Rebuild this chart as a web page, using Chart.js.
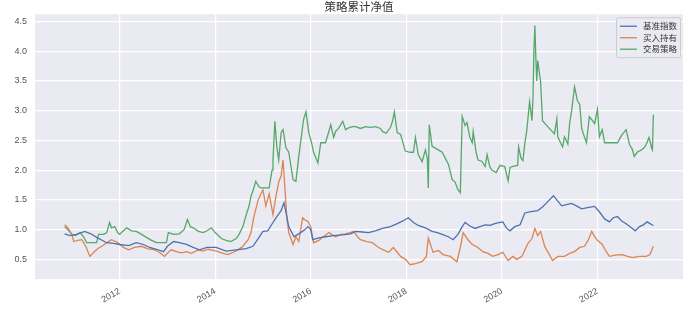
<!DOCTYPE html>
<html>
<head>
<meta charset="utf-8">
<script src="https://cdn.jsdelivr.net/npm/chart.js@4/dist/chart.umd.min.js"></script>
<style>
  html, body { margin: 0; padding: 0; background: #fff; }
  canvas { display: block; }
</style>
</head>
<body>
<canvas id="navChart" width="689" height="309"></canvas>
<script>
// 策略累计净值 — dates are decimal years
const seriesNames = ['基准指数', '买入持有', '交易策略'];
const seriesColors = ['#4c72b0', '#dd8452', '#55a868'];

const benchDates = [2010.85, 2010.96, 2011.10, 2011.27, 2011.40, 2011.52, 2011.73, 2011.88, 2012.00, 2012.19,
  2012.35, 2012.50, 2012.63, 2012.77, 2012.92, 2013.00, 2013.13, 2013.25, 2013.40, 2013.54,
  2013.67, 2013.83, 2014.02, 2014.23, 2014.44, 2014.65, 2014.79, 2014.90, 2015.00, 2015.10,
  2015.21, 2015.29, 2015.38, 2015.44, 2015.48, 2015.54, 2015.65, 2015.73, 2015.79, 2015.88,
  2015.94, 2016.00, 2016.04, 2016.17, 2016.31, 2016.48, 2016.67, 2016.83, 2016.94, 2017.08,
  2017.21, 2017.35, 2017.50, 2017.67, 2017.81, 2017.94, 2018.04, 2018.15, 2018.25, 2018.40,
  2018.54, 2018.65, 2018.75, 2018.88, 2018.98, 2019.08, 2019.17, 2019.23, 2019.33, 2019.44,
  2019.54, 2019.65, 2019.75, 2019.85, 2019.96, 2020.02, 2020.10, 2020.17, 2020.27, 2020.38,
  2020.48, 2020.58, 2020.75, 2020.85, 2020.96, 2021.08, 2021.17, 2021.25, 2021.35, 2021.46,
  2021.56, 2021.67, 2021.79, 2021.94, 2022.04, 2022.15, 2022.25, 2022.33, 2022.42, 2022.50,
  2022.60, 2022.71, 2022.79, 2022.88, 2022.96, 2023.04, 2023.10, 2023.17];
const benchValues = [0.93, 0.90, 0.92, 0.97, 0.93, 0.87, 0.78, 0.77, 0.75, 0.73,
  0.78, 0.75, 0.70, 0.67, 0.63, 0.72, 0.80, 0.78, 0.75, 0.70,
  0.66, 0.70, 0.70, 0.64, 0.66, 0.68, 0.72, 0.85, 0.97, 0.98,
  1.12, 1.22, 1.32, 1.45, 1.30, 1.05, 0.88, 0.92, 0.95, 1.00,
  1.05, 1.00, 0.83, 0.86, 0.88, 0.90, 0.91, 0.93, 0.97, 0.96,
  0.95, 0.98, 1.02, 1.05, 1.10, 1.15, 1.20, 1.12, 1.07, 1.03,
  0.97, 0.95, 0.92, 0.88, 0.83, 0.92, 1.05, 1.12, 1.06, 1.02,
  1.05, 1.08, 1.07, 1.10, 1.12, 1.13, 1.02, 0.98, 1.05, 1.08,
  1.28, 1.30, 1.32, 1.38, 1.47, 1.57, 1.48, 1.40, 1.42, 1.44,
  1.40, 1.35, 1.37, 1.39, 1.30, 1.18, 1.13, 1.20, 1.22, 1.15,
  1.10, 1.03, 0.98, 1.05, 1.08, 1.13, 1.10, 1.07];

const holdDates = [2010.85, 2010.90, 2010.94, 2011.00, 2011.04, 2011.13, 2011.21, 2011.29, 2011.38, 2011.46,
  2011.54, 2011.63, 2011.73, 2011.83, 2011.92, 2011.98, 2012.08, 2012.19, 2012.31, 2012.46,
  2012.58, 2012.73, 2012.83, 2012.94, 2013.02, 2013.08, 2013.19, 2013.29, 2013.40, 2013.50,
  2013.65, 2013.75, 2013.85, 2013.96, 2014.06, 2014.17, 2014.27, 2014.38, 2014.48, 2014.58,
  2014.69, 2014.75, 2014.81, 2014.90, 2015.00, 2015.06, 2015.13, 2015.21, 2015.27, 2015.33,
  2015.38, 2015.42, 2015.46, 2015.50, 2015.54, 2015.63, 2015.69, 2015.75, 2015.83, 2015.90,
  2015.94, 2016.00, 2016.06, 2016.17, 2016.25, 2016.38, 2016.52, 2016.63, 2016.73, 2016.83,
  2016.90, 2016.98, 2017.04, 2017.17, 2017.29, 2017.42, 2017.52, 2017.63, 2017.73, 2017.81,
  2017.88, 2017.98, 2018.08, 2018.19, 2018.33, 2018.42, 2018.46, 2018.56, 2018.67, 2018.77,
  2018.92, 2019.06, 2019.13, 2019.19, 2019.29, 2019.38, 2019.50, 2019.60, 2019.71, 2019.81,
  2019.92, 2020.02, 2020.13, 2020.23, 2020.31, 2020.42, 2020.54, 2020.63, 2020.69, 2020.75,
  2020.81, 2020.90, 2020.98, 2021.06, 2021.17, 2021.31, 2021.42, 2021.52, 2021.63, 2021.73,
  2021.81, 2021.88, 2021.94, 2022.00, 2022.10, 2022.19, 2022.25, 2022.38, 2022.52, 2022.63,
  2022.73, 2022.88, 2023.02, 2023.10, 2023.17];
const holdValues = [1.08, 1.05, 1.00, 0.92, 0.80, 0.82, 0.83, 0.72, 0.55, 0.62,
  0.68, 0.72, 0.78, 0.83, 0.80, 0.77, 0.70, 0.66, 0.70, 0.72,
  0.68, 0.66, 0.62, 0.55, 0.62, 0.66, 0.63, 0.61, 0.63, 0.60,
  0.66, 0.64, 0.67, 0.65, 0.63, 0.60, 0.58, 0.62, 0.66, 0.72,
  0.83, 0.95, 1.22, 1.50, 1.67, 1.40, 1.60, 1.25, 1.55, 1.80,
  1.90, 2.17, 1.70, 1.20, 0.95, 0.75, 0.88, 0.80, 1.20, 1.15,
  1.14, 1.05, 0.78, 0.82, 0.87, 0.95, 0.88, 0.92, 0.93, 0.95,
  0.97, 0.88, 0.83, 0.80, 0.78, 0.70, 0.66, 0.62, 0.70, 0.62,
  0.55, 0.50, 0.41, 0.43, 0.46, 0.55, 0.86, 0.62, 0.65, 0.58,
  0.55, 0.46, 0.70, 0.95, 0.83, 0.75, 0.70, 0.63, 0.60, 0.55,
  0.58, 0.62, 0.48, 0.55, 0.50, 0.55, 0.76, 0.85, 1.02, 0.90,
  0.97, 0.71, 0.60, 0.48, 0.55, 0.55, 0.60, 0.63, 0.70, 0.72,
  0.83, 0.97, 0.88, 0.82, 0.75, 0.62, 0.55, 0.57, 0.58, 0.55,
  0.53, 0.55, 0.55, 0.58, 0.72];

const stratDates = [2010.85, 2010.94, 2011.00, 2011.08, 2011.17, 2011.25, 2011.31, 2011.52, 2011.56, 2011.67,
  2011.73, 2011.79, 2011.83, 2011.90, 2011.96, 2012.00, 2012.08, 2012.15, 2012.25, 2012.35,
  2012.46, 2012.56, 2012.67, 2012.77, 2012.98, 2013.02, 2013.13, 2013.25, 2013.35, 2013.42,
  2013.48, 2013.54, 2013.65, 2013.75, 2013.83, 2013.92, 2014.00, 2014.13, 2014.23, 2014.33,
  2014.44, 2014.50, 2014.58, 2014.65, 2014.71, 2014.75, 2014.79, 2014.85, 2014.92, 2014.96,
  2015.13, 2015.19, 2015.21, 2015.25, 2015.29, 2015.33, 2015.38, 2015.42, 2015.48, 2015.54,
  2015.63, 2015.69, 2015.75, 2015.81, 2015.85, 2015.90, 2015.96, 2016.02, 2016.06, 2016.15,
  2016.21, 2016.31, 2016.42, 2016.48, 2016.52, 2016.58, 2016.67, 2016.73, 2016.79, 2016.88,
  2016.94, 2017.04, 2017.15, 2017.25, 2017.35, 2017.46, 2017.50, 2017.58, 2017.67, 2017.71,
  2017.75, 2017.81, 2017.88, 2017.98, 2018.08, 2018.15, 2018.19, 2018.25, 2018.33, 2018.40,
  2018.44, 2018.46, 2018.48, 2018.54, 2018.67, 2018.75, 2018.81, 2018.88, 2018.96, 2019.02,
  2019.08, 2019.13, 2019.17, 2019.23, 2019.27, 2019.33, 2019.38, 2019.40, 2019.46, 2019.50,
  2019.58, 2019.65, 2019.69, 2019.75, 2019.79, 2019.88, 2019.96, 2020.06, 2020.13, 2020.17,
  2020.21, 2020.33, 2020.35, 2020.40, 2020.44, 2020.48, 2020.52, 2020.58, 2020.63, 2020.65,
  2020.67, 2020.69, 2020.71, 2020.73, 2020.75, 2020.79, 2020.81, 2020.85, 2020.96, 2021.10,
  2021.15, 2021.17, 2021.27, 2021.31, 2021.38, 2021.42, 2021.46, 2021.52, 2021.58, 2021.63,
  2021.67, 2021.73, 2021.77, 2021.83, 2021.88, 2021.94, 2022.00, 2022.04, 2022.10, 2022.15,
  2022.29, 2022.42, 2022.48, 2022.52, 2022.60, 2022.67, 2022.73, 2022.77, 2022.83, 2022.92,
  2022.98, 2023.02, 2023.08, 2023.13, 2023.15, 2023.17];
const stratValues = [1.05, 0.98, 0.92, 0.90, 0.95, 0.88, 0.78, 0.78, 0.92, 0.92,
  0.95, 1.12, 1.03, 1.05, 0.95, 0.92, 0.98, 1.03, 0.98, 0.97,
  0.92, 0.87, 0.82, 0.78, 0.78, 0.95, 0.92, 0.93, 1.00, 1.17,
  1.05, 1.03, 0.97, 0.95, 0.98, 1.03, 0.95, 0.85, 0.82, 0.80,
  0.85, 0.92, 1.05, 1.25, 1.40, 1.56, 1.65, 1.81, 1.72, 1.70,
  1.70, 2.00, 2.17, 2.82, 2.40, 2.17, 2.63, 2.68, 2.38, 2.30,
  1.84, 1.81, 2.23, 2.60, 2.85, 2.98, 2.63, 2.45, 2.30, 2.12,
  2.46, 2.46, 2.76, 2.55, 2.65, 2.70, 2.82, 2.68, 2.71, 2.73,
  2.73, 2.70, 2.73, 2.72, 2.73, 2.70, 2.65, 2.62, 2.72, 2.82,
  2.98, 2.63, 2.60, 2.32, 2.30, 2.30, 2.55, 2.26, 2.14, 2.34,
  2.20, 1.70, 2.76, 2.40, 2.34, 2.30, 2.21, 2.10, 1.84, 1.80,
  1.67, 1.62, 2.90, 2.75, 2.80, 2.55, 2.46, 2.65, 2.30, 2.17,
  2.15, 2.06, 2.26, 2.05, 2.00, 1.96, 2.08, 2.06, 1.82, 2.04,
  2.06, 2.08, 2.39, 2.20, 2.16, 2.45, 2.66, 3.15, 2.83, 3.20,
  4.00, 4.43, 3.90, 3.50, 3.84, 3.60, 3.49, 2.83, 2.73, 2.61,
  2.86, 2.56, 2.39, 2.56, 2.44, 2.80, 3.00, 3.40, 3.17, 3.10,
  2.70, 2.55, 2.46, 2.90, 2.85, 2.78, 3.02, 2.56, 2.68, 2.46,
  2.46, 2.46, 2.55, 2.60, 2.68, 2.43, 2.35, 2.23, 2.30, 2.34,
  2.38, 2.43, 2.55, 2.38, 2.34, 2.93];

const xTicks = [2012, 2014, 2016, 2018, 2020, 2022];
const yTicks = [0.5, 1.0, 1.5, 2.0, 2.5, 3.0, 3.5, 4.0, 4.5];

const toPoints = (dates, values) => dates.map((d, i) => ({ x: d, y: values[i] }));
const allSeries = [
  toPoints(benchDates, benchValues),
  toPoints(holdDates, holdValues),
  toPoints(stratDates, stratValues)
];

const tickFont = { family: '"Liberation Sans", Arial, sans-serif', size: 9 };

// seaborn-style grey panel behind the lines
const panelBg = {
  id: 'panelBg',
  beforeDraw(chart) {
    const { ctx, chartArea: a } = chart;
    ctx.save();
    ctx.fillStyle = '#eaeaf2';
    ctx.fillRect(a.left, a.top, a.right - a.left, a.bottom - a.top);
    ctx.restore();
  }
};

// framed legend in the upper right corner of the panel
const boxLegend = {
  id: 'boxLegend',
  afterDatasetsDraw(chart) {
    const { ctx, chartArea: a } = chart;
    const w = 64, h = 40, x = a.right - w - 3, y = a.top + 3;
    ctx.save();
    ctx.beginPath();
    ctx.roundRect(x + 0.5, y + 0.5, w, h, 2);
    ctx.fillStyle = 'rgba(234,234,242,0.85)';
    ctx.fill();
    ctx.strokeStyle = '#cccccc';
    ctx.lineWidth = 1;
    ctx.stroke();
    ctx.font = '8.5px "Noto Sans CJK SC", sans-serif';
    ctx.textBaseline = 'middle';
    seriesNames.forEach((name, i) => {
      const ry = y + 9 + i * 11.5;
      ctx.strokeStyle = seriesColors[i];
      ctx.lineWidth = 1.3;
      ctx.beginPath();
      ctx.moveTo(x + 4, ry);
      ctx.lineTo(x + 21, ry);
      ctx.stroke();
      ctx.fillStyle = '#333';
      ctx.fillText(name, x + 27, ry);
    });
    ctx.restore();
  }
};

new Chart(document.getElementById('navChart'), {
  type: 'line',
  data: {
    datasets: seriesNames.map((name, i) => ({
      label: name,
      data: allSeries[i],
      borderColor: seriesColors[i],
      borderWidth: 1.3,
      pointRadius: 0,
      tension: 0,
      fill: false
    }))
  },
  options: {
    responsive: false,
    animation: false,
    devicePixelRatio: 1,
    layout: { padding: { left: 0, right: 6, top: 0, bottom: 0 } },
    plugins: {
      legend: { display: false },
      tooltip: { enabled: false },
      title: {
        display: true,
        fullSize: false,
        text: '策略累计净值',
        color: '#333',
        font: { family: '"Noto Sans CJK SC", sans-serif', size: 11.5, weight: 'normal', lineHeight: 1.15 },
        padding: { top: 0, bottom: 1 }
      }
    },
    scales: {
      x: {
        type: 'linear',
        min: 2010.23,
        max: 2023.79,
        afterBuildTicks: (s) => { s.ticks = xTicks.map((v) => ({ value: v })); },
        afterFit: (s) => { s.height = 30; },
        grid: { color: '#ffffff', lineWidth: 1.2, drawTicks: false },
        border: { display: false },
        ticks: {
          autoSkip: false,
          minRotation: 30,
          maxRotation: 30,
          padding: 7,
          color: '#555',
          font: tickFont,
          callback: (v) => String(v)
        }
      },
      y: {
        min: 0.17,
        max: 4.62,
        afterBuildTicks: (s) => { s.ticks = yTicks.map((v) => ({ value: v })); },
        afterFit: (s) => { s.width = 35; },
        grid: { color: '#ffffff', lineWidth: 1.2, drawTicks: false },
        border: { display: false },
        ticks: {
          padding: 8,
          color: '#555',
          font: tickFont,
          callback: (v) => v.toFixed(1)
        }
      }
    }
  },
  plugins: [panelBg, boxLegend]
});
</script>
</body>
</html>
